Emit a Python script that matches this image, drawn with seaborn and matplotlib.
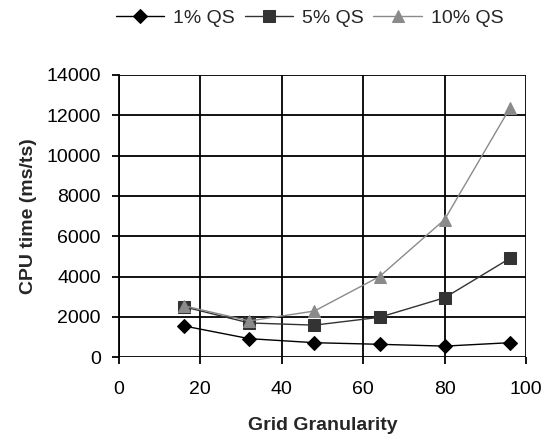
import matplotlib
matplotlib.use("Agg")
import matplotlib.pyplot as plt
import seaborn as sns
import pandas as pd

granularity = [16, 32, 48, 64, 80, 96]
qs1 = [1550, 920, 720, 640, 550, 720]
qs5 = [2500, 1700, 1590, 1980, 2950, 4900]
qs10 = [2550, 1800, 2290, 4000, 6830, 12350]
series_names = ["1% QS", "5% QS", "10% QS"]

df = pd.DataFrame({
    "x": granularity * 3,
    "y": qs1 + qs5 + qs10,
    "s": [series_names[0]] * 6 + [series_names[1]] * 6 + [series_names[2]] * 6,
})

sns.set_theme(style="white")
plt.rcParams["font.family"] = ["Liberation Sans", "DejaVu Sans"]

fig = plt.figure(figsize=(5.48, 4.41), dpi=100)
ax = fig.add_axes([0.217, 0.19, 0.743, 0.64])

colors = {"1% QS": "#000000", "5% QS": "#333333", "10% QS": "#8a8a8a"}
markers = {"1% QS": "D", "5% QS": "s", "10% QS": "^"}
sizes = {"1% QS": 7, "5% QS": 8, "10% QS": 9}
for name in series_names:
    sub = df[df["s"] == name]
    sns.lineplot(data=sub, x="x", y="y", ax=ax, color=colors[name],
                 marker=markers[name], markersize=sizes[name],
                 markeredgecolor=colors[name], linewidth=1.0, label=name)

ax.set_xlim(0, 100)
ax.set_ylim(0, 14000)
ax.set_xticks(range(0, 101, 20))
ax.set_yticks(range(0, 14001, 2000))
ax.grid(True, color="black", linewidth=1.3)
for sp in ax.spines.values():
    sp.set_visible(False)
ax.spines["left"].set_visible(True)
ax.spines["left"].set_color("black")
ax.spines["left"].set_linewidth(1.3)
ax.tick_params(axis="both", which="both", direction="out", length=5, width=1.3,
               color="black", labelsize=14, labelcolor="black")
ax.tick_params(axis="y", left=True, pad=8)
ax.tick_params(axis="x", bottom=True, pad=12)
ax.set_xlabel("Grid Granularity", fontsize=14, fontweight="bold", labelpad=14)
ax.set_ylabel("CPU time (ms/ts)", fontsize=14, fontweight="bold", labelpad=7)

handles, labels = ax.get_legend_handles_labels()
ax.get_legend().remove()
fig.legend(handles, labels, loc="center", bbox_to_anchor=(0.565, 0.959), ncol=3,
           frameon=False, fontsize=14, handlelength=2.5, columnspacing=0.5,
           handletextpad=0.45)

fig.savefig("out.png", dpi=100, facecolor="white")
